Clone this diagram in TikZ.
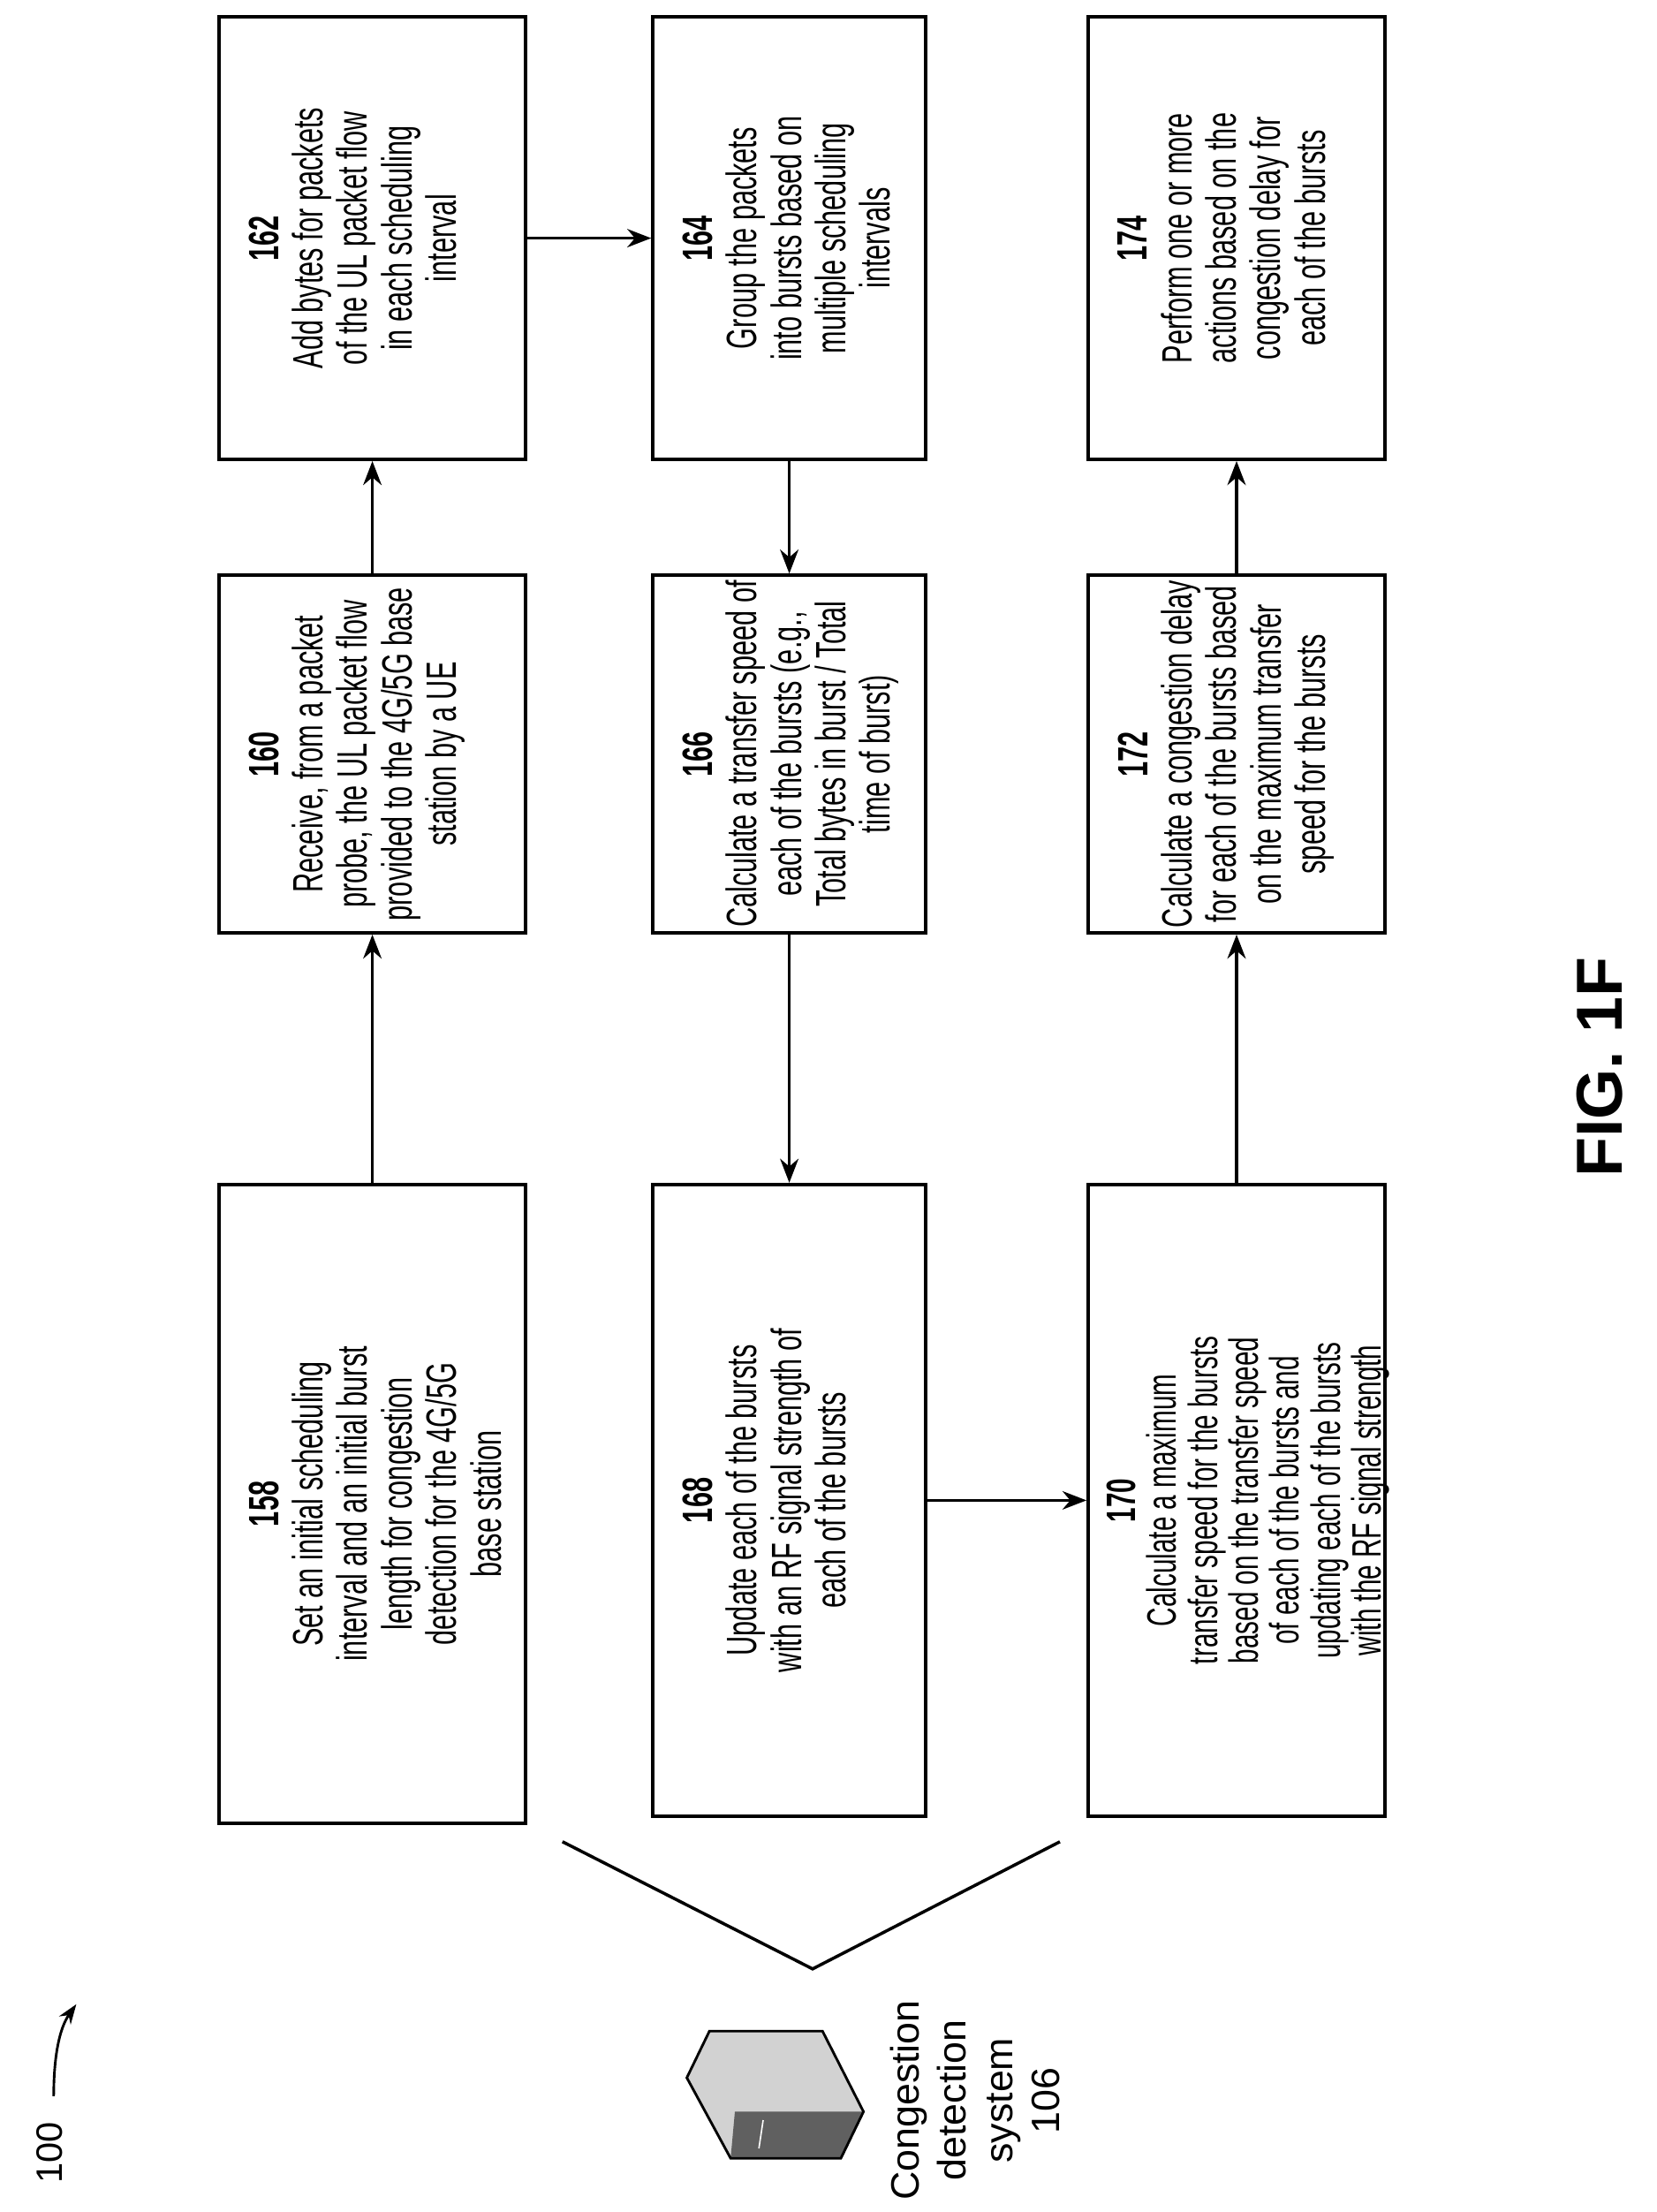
\documentclass[tikz,border=0pt]{standalone}
\usepackage{fontspec}
\setmainfont{Liberation Sans}
\newfontfamily\boxfont[FakeStretch=0.64]{Liberation Sans}
\usetikzlibrary{arrows.meta}
\begin{document}
\begin{tikzpicture}[x=1pt,y=-1pt,
  box/.style={draw,line width=2.4pt,rotate=90,inner sep=0pt},
  txt/.style={rotate=90,anchor=north,align=center,inner sep=0pt,yshift=-22pt,font=\boxfont\fontsize{30}{31.5}\selectfont},
  arr/.style={line width=2.2pt,-{Stealth[length=17pt,width=13pt]}}]
\useasboundingbox (0,0) rectangle (1172,1565);
% row 1
\node[box,minimum width=452pt,minimum height=217pt] (b158) at (263.5,1064) {};
\node[box,minimum width=253pt,minimum height=217pt] (b160) at (263.5,533.5) {};
\node[box,minimum width=313pt,minimum height=217pt] (b162) at (263.5,168.5) {};
% row 2
\node[box,minimum width=313pt,minimum height=193pt] (b164) at (558.5,168.5) {};
\node[box,minimum width=253pt,minimum height=193pt] (b166) at (558.5,533.5) {};
\node[box,minimum width=447pt,minimum height=193pt] (b168) at (558.5,1061.5) {};
% row 3
\node[box,minimum width=447pt,minimum height=210pt] (b170) at (875,1061.5) {};
\node[box,minimum width=253pt,minimum height=210pt] (b172) at (875,533.5) {};
\node[box,minimum width=313pt,minimum height=210pt] (b174) at (875,168.5) {};
\node[txt] (t158) at (b158.north) {\textbf{158}\\Set an initial scheduling\\interval and an initial burst\\length for congestion\\detection for the 4G/5G\\base station};
\node[txt] (t160) at (b160.north) {\textbf{160}\\Receive, from a packet\\probe, the UL packet flow\\provided to the 4G/5G base\\station by a UE};
\node[txt] (t162) at (b162.north) {\textbf{162}\\Add bytes for packets\\of the UL packet flow\\in each scheduling\\interval};
\node[txt] (t164) at (b164.north) {\textbf{164}\\Group the packets\\into bursts based on\\multiple scheduling\\intervals};
\node[txt] (t166) at (b166.north) {\textbf{166}\\Calculate a transfer speed of\\each of the bursts (e.g.,\\Total bytes in burst / Total\\time of burst)};
\node[txt] (t168) at (b168.north) {\textbf{168}\\Update each of the bursts\\with an RF signal strength of\\each of the bursts};
\node[txt,yshift=8pt,font=\boxfont\fontsize{29}{29}\selectfont] (t170) at (b170.north) {\textbf{170}\\Calculate a maximum\\transfer speed for the bursts\\based on the transfer speed\\of each of the bursts and\\updating each of the bursts\\with the RF signal strength};
\node[txt] (t172) at (b172.north) {\textbf{172}\\Calculate a congestion delay\\for each of the bursts based\\on the maximum transfer\\speed for the bursts};
\node[txt] (t174) at (b174.north) {\textbf{174}\\Perform one or more\\actions based on the\\congestion delay for\\each of the bursts};
% arrows
\draw[arr] (b158) -- (b160);
\draw[arr] (b160) -- (b162);
\draw[arr] (b162) -- (b164);
\draw[arr] (b164) -- (b166);
\draw[arr] (b166) -- (b168);
\draw[arr] (b168) -- (b170);
\draw[arr] (b170) -- (b172);
\draw[arr] (b172) -- (b174);
% V
\coordinate (v1) at (398,1303);
\coordinate (v2) at (575,1393);
\coordinate (v3) at (750,1303);
\draw[line width=2.2pt] (v1) -- (v2) -- (v3);
% server
\fill[gray!35] (502,1437) -- (582,1437) -- (611,1494) -- (595,1527) -- (517,1527) -- (486,1470) -- cycle;
\fill[gray!75!black] (520,1494) -- (611,1494) -- (595,1527) -- (517,1527) -- cycle;
\draw[line width=1.8pt] (502,1437) -- (582,1437) -- (611,1494) -- (595,1527) -- (517,1527) -- (486,1470) -- cycle;
\draw[white,line width=1pt] (540,1500) -- (537,1520);
\node[rotate=90,align=center,inner sep=0pt,font=\fontsize{28}{33}\selectfont] (sys) at (690,1486) {Congestion\\detection\\system\\106};
% 100
\node[rotate=90,inner sep=0pt,font=\fontsize{26}{30}\selectfont] (n100) at (35,1523) {100};
\coordinate (a1) at (38,1483);
\coordinate (a2) at (54,1418);
\draw[line width=1.8pt,-{Stealth[length=14pt,width=10pt]}] (a1) .. controls (38,1455) and (42,1435) .. (a2);
% fig
\node[rotate=90,inner sep=0pt,font=\fontsize{46}{50}\selectfont\bfseries] (fig) at (1132,755) {FIG. 1F};
\end{tikzpicture}
\end{document}
